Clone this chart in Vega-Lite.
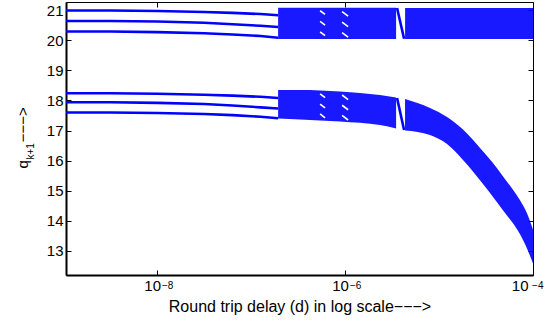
{
  "$schema": "https://vega.github.io/schema/vega-lite/v6.json",
  "autosize": "none",
  "width": 467,
  "height": 273,
  "padding": {"left": 66, "top": 2, "right": 24, "bottom": 47},
  "background": "white",
  "config": {
    "font": "Liberation Sans",
    "view": {"stroke": "black", "strokeWidth": 1},
    "axis": {"grid": false, "labelFont": "Liberation Sans", "titleFont": "Liberation Sans", "labelFontSize": 15, "titleFontSize": 15, "titleFontWeight": "normal", "labelColor": "black", "titleColor": "black", "domainColor": "black", "tickColor": "black"}
  },
  "datasets": {
    "bands": [
      {"d": 1.937e-7, "lo": 20.04, "hi": 21.08, "g": "u1"},
      {"d": 3.49e-6, "lo": 20.04, "hi": 21.08, "g": "u1"},
      {"d": 4.35e-6, "lo": 20.04, "hi": 21.07, "g": "u2"},
      {"d": 1e-4, "lo": 20.04, "hi": 21.07, "g": "u2"},
      {"d": 1.937e-7, "lo": 17.40, "hi": 18.35, "g": "l1"},
      {"d": 3.319e-7, "lo": 17.37, "hi": 18.35, "g": "l1"},
      {"d": 8.85e-7, "lo": 17.30, "hi": 18.30, "g": "l1"},
      {"d": 2.355e-6, "lo": 17.18, "hi": 18.18, "g": "l1"},
      {"d": 3.49e-6, "lo": 17.07, "hi": 18.10, "g": "l1"},
      {"d": 4.345e-6, "lo": 17.00, "hi": 18.05, "g": "l2"},
      {"d": 8.017e-6, "lo": 16.85, "hi": 17.75, "g": "l2"},
      {"d": 1.216e-5, "lo": 16.55, "hi": 17.45, "g": "l2"},
      {"d": 1.799e-5, "lo": 16.02, "hi": 17.03, "g": "l2"},
      {"d": 2.729e-5, "lo": 15.35, "hi": 16.42, "g": "l2"},
      {"d": 4.14e-5, "lo": 14.62, "hi": 15.75, "g": "l2"},
      {"d": 5.284e-5, "lo": 14.18, "hi": 15.30, "g": "l2"},
      {"d": 6.124e-5, "lo": 13.92, "hi": 15.03, "g": "l2"},
      {"d": 7.278e-5, "lo": 13.55, "hi": 14.68, "g": "l2"},
      {"d": 8.63e-5, "lo": 13.08, "hi": 14.25, "g": "l2"},
      {"d": 1e-4, "lo": 12.58, "hi": 13.70, "g": "l2"}
    ],
    "lines": [
      {"d": 1.07e-9, "q": 20.99, "s": "U1"}, {"d": 3.162e-9, "q": 20.99, "s": "U1"}, {"d": 1e-8, "q": 20.97, "s": "U1"}, {"d": 3.162e-8, "q": 20.94, "s": "U1"}, {"d": 6.31e-8, "q": 20.91, "s": "U1"}, {"d": 1.259e-7, "q": 20.87, "s": "U1"}, {"d": 1.937e-7, "q": 20.83, "s": "U1"},
      {"d": 1.07e-9, "q": 20.64, "s": "U2"}, {"d": 3.162e-9, "q": 20.64, "s": "U2"}, {"d": 1e-8, "q": 20.62, "s": "U2"}, {"d": 3.162e-8, "q": 20.58, "s": "U2"}, {"d": 6.31e-8, "q": 20.53, "s": "U2"}, {"d": 1.259e-7, "q": 20.48, "s": "U2"}, {"d": 1.937e-7, "q": 20.44, "s": "U2"},
      {"d": 1.07e-9, "q": 20.29, "s": "U3"}, {"d": 3.162e-9, "q": 20.29, "s": "U3"}, {"d": 1e-8, "q": 20.27, "s": "U3"}, {"d": 3.162e-8, "q": 20.23, "s": "U3"}, {"d": 6.31e-8, "q": 20.19, "s": "U3"}, {"d": 1.259e-7, "q": 20.14, "s": "U3"}, {"d": 1.937e-7, "q": 20.08, "s": "U3"},
      {"d": 1.07e-9, "q": 18.24, "s": "L1"}, {"d": 3.162e-9, "q": 18.24, "s": "L1"}, {"d": 1e-8, "q": 18.22, "s": "L1"}, {"d": 3.162e-8, "q": 18.19, "s": "L1"}, {"d": 6.31e-8, "q": 18.16, "s": "L1"}, {"d": 1.259e-7, "q": 18.12, "s": "L1"}, {"d": 1.937e-7, "q": 18.08, "s": "L1"},
      {"d": 1.07e-9, "q": 17.94, "s": "L2"}, {"d": 3.162e-9, "q": 17.94, "s": "L2"}, {"d": 1e-8, "q": 17.92, "s": "L2"}, {"d": 3.162e-8, "q": 17.88, "s": "L2"}, {"d": 6.31e-8, "q": 17.83, "s": "L2"}, {"d": 1.259e-7, "q": 17.77, "s": "L2"}, {"d": 1.937e-7, "q": 17.73, "s": "L2"},
      {"d": 1.07e-9, "q": 17.60, "s": "L3"}, {"d": 3.162e-9, "q": 17.60, "s": "L3"}, {"d": 1e-8, "q": 17.58, "s": "L3"}, {"d": 3.162e-8, "q": 17.55, "s": "L3"}, {"d": 6.31e-8, "q": 17.51, "s": "L3"}, {"d": 1.259e-7, "q": 17.46, "s": "L3"}, {"d": 1.937e-7, "q": 17.41, "s": "L3"},
      {"d": 3.573e-6, "q": 21.07, "s": "DU"}, {"d": 4.246e-6, "q": 20.05, "s": "DU"},
      {"d": 3.573e-6, "q": 18.08, "s": "DL"}, {"d": 4.246e-6, "q": 17.02, "s": "DL"}
    ],
    "streaks": [
      {"d": 5.42e-7, "q": 20.98, "s": "a1"}, {"d": 6.12e-7, "q": 20.86, "s": "a1"},
      {"d": 5.42e-7, "q": 20.63, "s": "a2"}, {"d": 6.12e-7, "q": 20.50, "s": "a2"},
      {"d": 5.42e-7, "q": 20.28, "s": "a3"}, {"d": 6.12e-7, "q": 20.15, "s": "a3"},
      {"d": 9.29e-7, "q": 20.95, "s": "b1"}, {"d": 1.076e-6, "q": 20.80, "s": "b1"},
      {"d": 9.29e-7, "q": 20.60, "s": "b2"}, {"d": 1.076e-6, "q": 20.45, "s": "b2"},
      {"d": 9.29e-7, "q": 20.25, "s": "b3"}, {"d": 1.076e-6, "q": 20.10, "s": "b3"},
      {"d": 5.42e-7, "q": 18.22, "s": "c1"}, {"d": 6.12e-7, "q": 18.09, "s": "c1"},
      {"d": 5.42e-7, "q": 17.88, "s": "c2"}, {"d": 6.12e-7, "q": 17.75, "s": "c2"},
      {"d": 5.42e-7, "q": 17.55, "s": "c3"}, {"d": 6.12e-7, "q": 17.42, "s": "c3"},
      {"d": 9.29e-7, "q": 18.18, "s": "e1"}, {"d": 1.076e-6, "q": 18.03, "s": "e1"},
      {"d": 9.29e-7, "q": 17.84, "s": "e2"}, {"d": 1.076e-6, "q": 17.69, "s": "e2"},
      {"d": 9.29e-7, "q": 17.50, "s": "e3"}, {"d": 1.076e-6, "q": 17.35, "s": "e3"}
    ]
  },
  "layer": [
    {
      "data": {"name": "bands"},
      "mark": {"type": "area", "color": "#0000ff", "interpolate": "monotone", "clip": true, "opacity": 0.9},
      "encoding": {
        "x": {"field": "d", "type": "quantitative", "scale": {"type": "log", "domain": [1.07e-9, 1e-4], "nice": false},
              "axis": {"orient": "bottom", "values": [1e-8, 1e-6, 1e-4], "tickSize": -5, "domainWidth": 2, "labelPadding": 8, "labelOffset": -5,
                       "labelExpr": "'10'",
                       "title": "Round trip delay (d) in log scale−−−>", "titleFontSize": 16, "titleBaseline": "alphabetic", "titleY": 36}},
        "y": {"field": "lo", "type": "quantitative", "scale": {"domain": [12.2, 21.27], "nice": false, "zero": false},
              "axis": {"orient": "left", "values": [13, 14, 15, 16, 17, 18, 19, 20, 21], "tickSize": -5, "domainWidth": 2, "labelPadding": 8,
                       "title": "q\u2003\u2009−−−>", "titleX": -39, "titleY": 166, "titleAngle": -90, "titleAlign": "left", "titleBaseline": "alphabetic"}},
        "y2": {"field": "hi"},
        "detail": {"field": "g"}
      }
    },
    {
      "data": {"name": "lines"},
      "mark": {"type": "line", "color": "#0000ff", "strokeWidth": 2.6, "clip": true},
      "encoding": {
        "x": {"field": "d", "type": "quantitative", "scale": {"type": "log", "domain": [1.07e-9, 1e-4], "nice": false},
              "axis": {"orient": "top", "values": [1e-8, 1e-6, 1e-4], "tickSize": -5, "labels": false, "title": null, "domain": false}},
        "y": {"field": "q", "type": "quantitative", "scale": {"domain": [12.2, 21.27], "nice": false, "zero": false},
              "axis": {"orient": "right", "values": [13, 14, 15, 16, 17, 18, 19, 20, 21], "tickSize": -5, "labels": false, "title": null, "domain": false}},
        "detail": {"field": "s"}
      }
    },
    {
      "data": {"name": "streaks"},
      "mark": {"type": "line", "color": "white", "strokeWidth": 1.6, "clip": true},
      "encoding": {
        "x": {"field": "d", "type": "quantitative", "scale": {"type": "log", "domain": [1.07e-9, 1e-4], "nice": false},
              "axis": {"orient": "bottom", "values": [1e-8, 1e-6, 1e-4], "ticks": false, "domain": false, "title": null, "labelFontSize": 10, "labelPadding": 5, "labelOffset": 10,
                       "labelExpr": "datum.value < 5e-8 ? '−8' : (datum.value < 5e-6 ? '−6' : '−4')"}},
        "y": {"field": "q", "type": "quantitative", "scale": {"domain": [12.2, 21.27], "nice": false, "zero": false},
              "axis": {"orient": "left", "values": [13], "ticks": false, "labels": false, "domain": false, "title": "k+1", "titleFontSize": 10, "titleX": -33, "titleY": 157, "titleAngle": -90, "titleAlign": "left", "titleBaseline": "alphabetic"}},
        "detail": {"field": "s"}
      }
    }
  ],
  "resolve": {"axis": {"x": "independent", "y": "independent"}}
}
